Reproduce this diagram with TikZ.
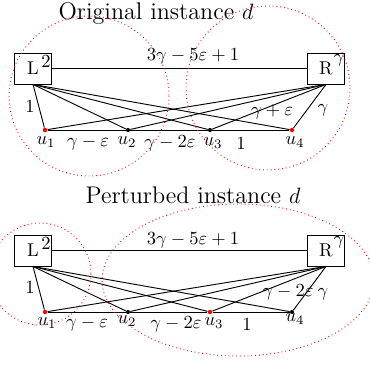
\documentclass[tikz,border=0pt]{standalone}
\begin{document}
\begin{tikzpicture}[x=0.54pt,y=-0.54pt,
  box/.style={draw,line width=0.5pt,minimum width=20pt,minimum height=16.7pt,inner sep=0pt},
  dotr/.style={circle,fill=red,inner sep=0pt,minimum size=2.4pt},
  dotk/.style={circle,fill=black,inner sep=0pt,minimum size=2.2pt},
  edge/.style={line width=0.5pt},
  zone/.style={red,line width=0.5pt,dash pattern=on 0.45pt off 1.6pt},
  lab/.style={inner sep=0pt},
  ttl/.style={font=\fontsize{13}{15}\selectfont,anchor=base,inner sep=0pt}]
\useasboundingbox (0,0) rectangle (370,366);
% ---------- top panel ----------
\node[ttl] (t1) at (156,19) {Original instance $d$};
\node[box] (L1) at (33,68.5) {L};
\node[box] (R1) at (326,68.5) {R};
\node[dotr] (a1) at (45,130) {};
\node[dotk] (a2) at (128,130) {};
\node[dotk] (a3) at (210,130) {};
\node[dotr] (a4) at (292,130) {};
\draw[edge] (L1) -- (R1);
\foreach \i in {1,...,4} {
  \draw[edge] (L1.south) -- (a\i);
  \draw[edge] (R1.south) -- (a\i);
}
\draw[edge] (a1) -- (a2) -- (a3) -- (a4);
\node[lab] (tl2) at (46,61) {2};
\node[lab] (trg) at (339,60) {$\gamma$};
\node[lab] (tlr) at (193,56) {$3\gamma-5\varepsilon+1$};
\node[lab] (tl1) at (30,106) {1};
\node[lab] (tu1) at (46,142) {$u_1$};
\node[lab] (tu2) at (127,142) {$u_2$};
\node[lab] (tu3) at (213,143) {$u_3$};
\node[lab] (tu4) at (295,142) {$u_4$};
\node[lab] (t12) at (88,143) {$\gamma-\varepsilon$};
\node[lab] (t23) at (170,143) {$\gamma-2\varepsilon$};
\node[lab] (t34) at (241,143) {1};
\node[lab] (tr3) at (272,112) {$\gamma+\varepsilon$};
\node[lab] (tr4) at (323,110) {$\gamma$};
\draw[zone] (89,96) circle[radius=80];
\draw[zone] (268,88) circle[radius=82];
% ---------- bottom panel ----------
\node[ttl] (t2) at (193,203) {Perturbed instance $d$};
\node[box] (L2) at (33,250.5) {L};
\node[box] (R2) at (326,250.5) {R};
\node[dotr] (b1) at (45,312) {};
\node[dotk] (b2) at (128,312) {};
\node[dotr] (b3) at (210,312) {};
\node[dotk] (b4) at (292,312) {};
\draw[edge] (L2) -- (R2);
\foreach \i in {1,...,4} {
  \draw[edge] (L2.south) -- (b\i);
  \draw[edge] (R2.south) -- (b\i);
}
\draw[edge] (b1) -- (b2) -- (b3) -- (b4);
\node[lab] (bl2) at (46,243) {2};
\node[lab] (brg) at (339,242) {$\gamma$};
\node[lab] (blr) at (193,240) {$3\gamma-5\varepsilon+1$};
\node[lab] (bl1) at (30,287) {1};
\node[lab] (bu1) at (47,323) {$u_1$};
\node[lab] (bu2) at (127,321) {$u_2$};
\node[lab] (bu3) at (214,323) {$u_3$};
\node[lab] (bu4) at (295,319) {$u_4$};
\node[lab] (b12) at (87,324) {$\gamma-\varepsilon$};
\node[lab] (b23) at (176,324) {$\gamma-2\varepsilon$};
\node[lab] (b34) at (247,324) {1};
\node[lab] (br3) at (288,292) {$\gamma-2\varepsilon$};
\node[lab] (br4) at (323,294) {$\gamma$};
\draw[zone] (40,274) circle[radius=51];
\draw[zone] (238,280) ellipse[x radius=136,y radius=76];
\end{tikzpicture}
\end{document}
